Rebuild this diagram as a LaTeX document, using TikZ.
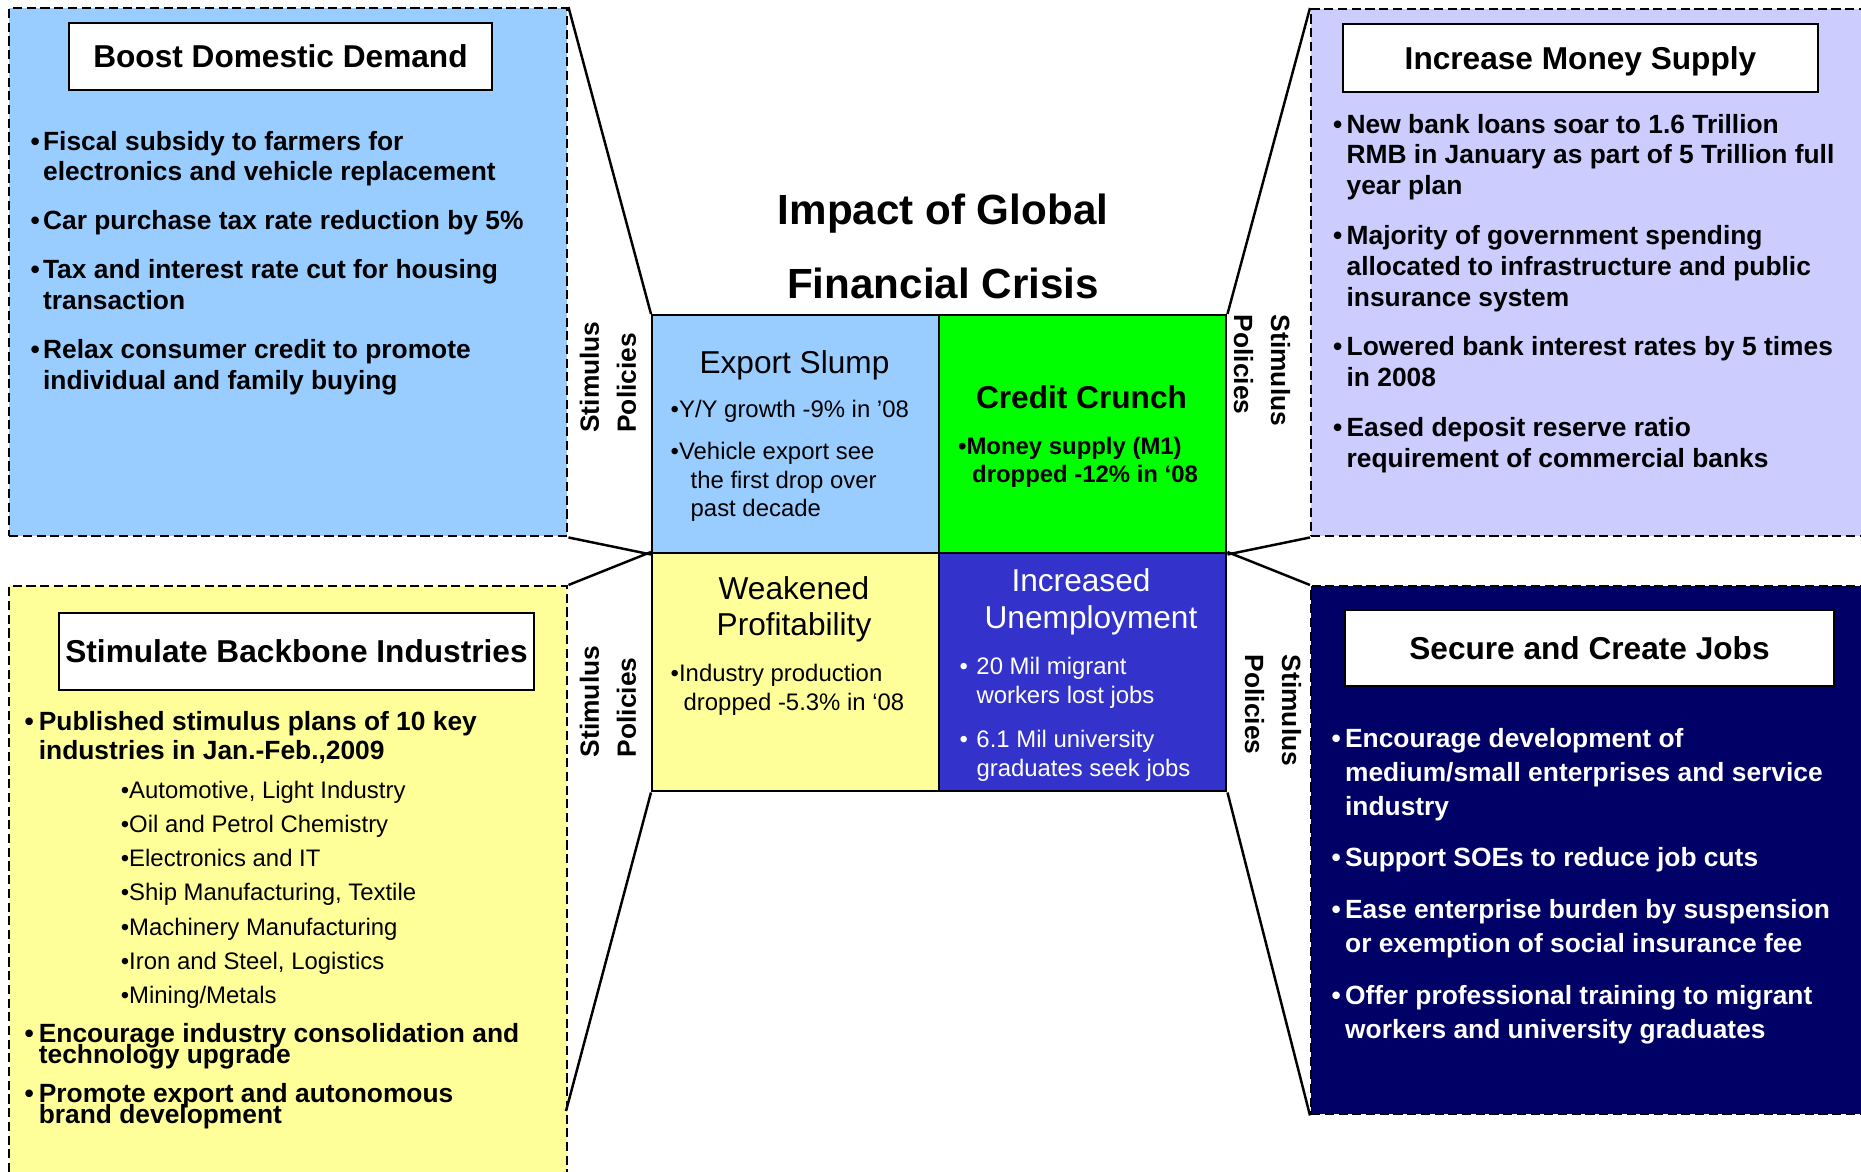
\documentclass[tikz,border=0pt]{standalone}
\usepackage{fontspec}
\setmainfont{Liberation Sans}

\definecolor{skyblue}{HTML}{99CCFF}
\definecolor{paleyellow}{HTML}{FFFF99}
\definecolor{lavender}{HTML}{CCCCFF}
\definecolor{deepnavy}{HTML}{000066}
\definecolor{cgreen}{HTML}{00FF00}
\definecolor{midblue}{HTML}{3333CC}

% second level entries of the industry list
\newcommand{\indentry}[1]{\hspace{0.82cm}{\mdseries\fontsize{6.8}{8}\selectfont\textbullet#1}}

\begin{document}
\begin{tikzpicture}[
	bigbox/.style={draw, line width=0.7pt, dash pattern=on 2.6pt off 1.3pt, anchor=north west, inner sep=0pt},
	headbox/.style={draw, line width=0.8pt, fill=white, inner sep=0pt, text height=6.45pt, text depth=0pt, font=\fontsize{9}{10.8}\selectfont\bfseries},
	cell/.style={draw, line width=0.7pt, anchor=north west, inner sep=0pt, minimum width=2.87cm, minimum height=2.38cm},
	policy/.style={inner sep=0pt, align=left, font=\fontsize{7.5}{10.5}\selectfont\bfseries},
	textlist/.style={anchor=base west, inner sep=0pt},
	celltitle/.style={anchor=base, inner sep=0pt, font=\fontsize{9}{10.8}\selectfont},
	]
	
	\useasboundingbox (0,0) rectangle (18.61,-11.71);
	\clip (0,0) rectangle (18.61,-11.71);
	
	% policy boxes
	\node[bigbox, fill=skyblue, minimum width=5.58cm, minimum height=5.28cm] (demand) at (0.08,-0.07) {};
	\node[bigbox, fill=lavender, minimum width=5.70cm, minimum height=5.27cm] (money) at (13.10,-0.08) {};
	\node[bigbox, fill=paleyellow, minimum width=5.58cm, minimum height=6.10cm] (industry) at (0.08,-5.85) {};
	\node[bigbox, fill=deepnavy, minimum width=5.70cm, minimum height=5.28cm] (jobs) at (13.10,-5.85) {};
	
	% impact grid
	\node[cell, fill=skyblue] (slump) at (6.51,-3.14) {};
	\node[cell, fill=cgreen] (crunch) at (9.38,-3.14) {};
	\node[cell, fill=paleyellow] (weak) at (6.51,-5.52) {};
	\node[cell, fill=midblue] (unemp) at (9.38,-5.52) {};
	
	\coordinate (indlow) at (5.66,-11.11);
	
	\foreach \a/\b in {
		demand.north east/slump.north west, demand.south east/slump.south west,
		industry.north east/weak.north west, weak.south west/indlow,
		money.north west/crunch.north east, money.south west/crunch.south east,
		jobs.north west/unemp.north east, jobs.south west/unemp.south east} {
		\draw[line width=0.7pt] (\a) -- (\b);
	}
	
	\node[anchor=base, inner sep=0pt, font=\fontsize{12}{21.3}\selectfont\bfseries] (title) at (9.43,-2.24)
		{\begin{tabular}[t]{@{}c@{}}Impact of Global\\Financial Crisis\end{tabular}};
	
	\foreach \n/\x/\y/\r in {spdemand/6.08/-3.77/90, spindustry/6.08/-7.015/90, spmoney/12.62/-3.705/-90, spjobs/12.73/-7.105/-90} {
		\node[policy, rotate=\r] (\n) at (\x,\y) {Stimulus\\Policies};
	}
	
	% headings of the policy boxes
	\node[headbox, minimum width=4.23cm, minimum height=0.67cm] (demandhead) at (2.805,-0.565) {Boost Domestic Demand};
	\node[headbox, minimum width=4.75cm, minimum height=0.68cm] (moneyhead) at (15.805,-0.58) {Increase Money Supply};
	\node[headbox, minimum width=4.75cm, minimum height=0.77cm] (industryhead) at (2.965,-6.515) {Stimulate Backbone Industries};
	\node[headbox, minimum width=4.89cm, minimum height=0.76cm] (jobshead) at (15.895,-6.48) {Secure and Create Jobs};
	
	\node[textlist, font=\fontsize{7.5}{8.7}\selectfont\bfseries] (demandlist) at (0.30,-1.50) {%
		\begin{tabular}[t]{@{}l@{\hspace{0.9pt}}l@{}}
			\textbullet & Fiscal subsidy to farmers for\\
			& electronics and vehicle replacement\\[5.3pt]
			\textbullet & Car purchase tax rate reduction by 5\%\\[5.3pt]
			\textbullet & Tax and interest rate cut for housing\\
			& transaction\\[5.3pt]
			\textbullet & Relax consumer credit to promote\\
			& individual and family buying
		\end{tabular}};
	
	\node[textlist, font=\fontsize{7.5}{8.8}\selectfont\bfseries] (moneylist) at (13.325,-1.33) {%
		\begin{tabular}[t]{@{}l@{\hspace{1.2pt}}l@{}}
			\textbullet & New bank loans soar to 1.6 Trillion\\
			& RMB in January as part of 5 Trillion full\\
			& year plan\\[5.3pt]
			\textbullet & Majority of government spending\\
			& allocated to infrastructure and public\\
			& insurance system\\[5.3pt]
			\textbullet & Lowered bank interest rates by 5 times\\
			& in 2008\\[5.3pt]
			\textbullet & Eased deposit reserve ratio\\
			& requirement of commercial banks
		\end{tabular}};
	
	\node[textlist, font=\fontsize{7.5}{8.25}\selectfont\bfseries] (industrylist) at (0.24,-7.30) {%
		\begin{tabular}[t]{@{}l@{\hspace{1.4pt}}l@{}}
			\textbullet & Published stimulus plans of 10 key\\
			& industries in Jan.-Feb.,2009\\[2.85pt]
			& \indentry{Automotive, Light Industry}\\[1.5pt]
			& \indentry{Oil and Petrol Chemistry}\\[1.5pt]
			& \indentry{Electronics and IT}\\[1.5pt]
			& \indentry{Ship Manufacturing, Textile}\\[1.5pt]
			& \indentry{Machinery Manufacturing}\\[1.5pt]
			& \indentry{Iron and Steel, Logistics}\\[1.5pt]
			& \indentry{Mining/Metals}\\[2.85pt]
			\textbullet & Encourage industry consolidation and\\[-2.3pt]
			& technology upgrade\\[2.85pt]
			\textbullet & Promote export and autonomous\\[-2.3pt]
			& brand development
		\end{tabular}};
	
	\node[textlist, text=white, font=\fontsize{7.5}{9.7}\selectfont\bfseries] (jobslist) at (13.31,-7.47) {%
		\begin{tabular}[t]{@{}l@{\hspace{1.2pt}}l@{}}
			\textbullet & Encourage development of\\
			& medium/small enterprises and service\\
			& industry\\[5pt]
			\textbullet & Support SOEs to reduce job cuts\\[5pt]
			\textbullet & Ease enterprise burden by suspension\\
			& or exemption of social insurance fee\\[5pt]
			\textbullet & Offer professional training to migrant\\
			& workers and university graduates
		\end{tabular}};
	
	% texts inside the grid
	\node[celltitle] (slumptitle) at (7.945,-3.73) {Export Slump};
	\node[celltitle, font=\fontsize{9}{10.8}\selectfont\bfseries] (crunchtitle) at (10.815,-4.08) {Credit Crunch};
	\node[celltitle, font=\fontsize{9}{10.24}\selectfont] (weaktitle) at (7.94,-5.99)
		{\begin{tabular}[t]{@{}c@{}}Weakened\\Profitability\end{tabular}};
	\node[celltitle, text=white, font=\fontsize{9}{10.8}\selectfont] (unemptitle) at (10.81,-5.91)
		{\begin{tabular}[t]{@{}c@{}}Increased\\\hspace{0.2cm}Unemployment\end{tabular}};
	
	\node[textlist, font=\fontsize{6.8}{8.1}\selectfont] (slumplist) at (6.70,-4.17) {%
		\begin{tabular}[t]{@{}l@{}}
			\textbullet Y/Y growth -9\% in '08\\[4.1pt]
			\textbullet Vehicle export see\\
			\hspace{0.2cm}the first drop over\\
			\hspace{0.2cm}past decade
		\end{tabular}};
	\node[textlist, font=\fontsize{6.8}{8}\selectfont\bfseries] (crunchlist) at (9.575,-4.54) {%
		\begin{tabular}[t]{@{}l@{}}
			\textbullet Money supply (M1)\\
			\hspace{0.14cm}dropped -12\% in `08
		\end{tabular}};
	\node[textlist, font=\fontsize{6.8}{8.25}\selectfont] (weaklist) at (6.70,-6.81) {%
		\begin{tabular}[t]{@{}l@{}}
			\textbullet Industry production\\
			\hspace{0.13cm}dropped -5.3\% in `08
		\end{tabular}};
	\node[textlist, text=white, font=\fontsize{6.8}{8.25}\selectfont] (unemplist) at (9.59,-6.74) {%
		\begin{tabular}[t]{@{}l@{\hspace{2.4pt}}l@{}}
			\textbullet & 20 Mil migrant\\
			& workers lost jobs\\[4.3pt]
			\textbullet & 6.1 Mil university\\
			& graduates seek jobs
		\end{tabular}};
	
\end{tikzpicture}
\end{document}
